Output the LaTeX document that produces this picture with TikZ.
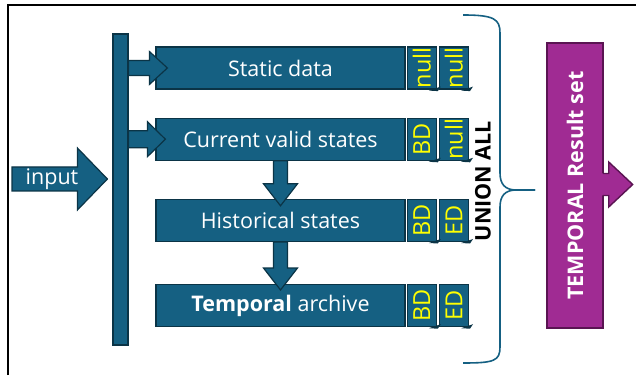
\documentclass[tikz,border=0pt]{standalone}
\usepackage{fontspec}
\setmainfont{Open Sans}
\usetikzlibrary{calc,positioning}
\definecolor{acc}{HTML}{156082}
\definecolor{accdk}{HTML}{0B3446}
\definecolor{purp}{HTML}{A02B93}
\definecolor{purpdk}{HTML}{5A1452}
\definecolor{tagtxt}{HTML}{FFFF00}
\newcommand{\bigtxt}{\fontsize{21.5}{24}\selectfont}
\newcommand{\tagtxt}{\fontsize{23.5}{26}\selectfont}
% block arrows: tail point, tip point, body half, head half, head length
\newcommand{\rarr}[5]{\draw[barr] let \p1=#1, \p2=#2 in (\x1,\y2+#3pt) -- (\x2-#5pt,\y2+#3pt) -- (\x2-#5pt,\y2+#4pt) -- (\x2,\y2) -- (\x2-#5pt,\y2-#4pt) -- (\x2-#5pt,\y2-#3pt) -- (\x1,\y2-#3pt) -- cycle;}
\newcommand{\darr}[5]{\draw[barr] let \p1=#1, \p2=#2 in (\x2-#3pt,\y1) -- (\x2-#3pt,\y2+#5pt) -- (\x2-#4pt,\y2+#5pt) -- (\x2,\y2) -- (\x2+#4pt,\y2+#5pt) -- (\x2+#3pt,\y2+#5pt) -- (\x2+#3pt,\y1) -- cycle;}
\tikzset{
  box/.style={draw=accdk,fill=acc,line width=1.2pt,minimum width=249pt,minimum height=42pt,inner sep=0pt,text=white,font=\bigtxt},
  tag/.style={box,minimum width=29pt,text=tagtxt,font=\tagtxt},
  barr/.style={draw=accdk,fill=acc,line width=1.2pt,line join=miter},
  brace/.style={draw=acc,line width=1.6pt},
}
\begin{document}
\begin{tikzpicture}[x=1pt,y=1pt,node distance=2pt]
\useasboundingbox (0,0) rectangle (636,375);
\draw[line width=2pt] (8,0) -- (8,370) -- (636,370);
\node[box,minimum width=15pt,minimum height=311pt] (bar) at (120.5,185.5) {};
\node[box] (static) at (280.5,307) {Static data};
\node[box,below=28pt of static] (current) {Current valid states};
\node[box,below=38pt of current] (historical) {Historical states};
\node[box,below=42pt of historical] (temporal) {\textbf{Temporal} archive};
\node[tag,right=1pt of static] (sd1) {\rotatebox{90}{null}};
\node[tag,right=2pt of sd1] (sd2) {\rotatebox{90}{null}};
\node[tag,right=1pt of current] (cv1) {\rotatebox{90}{BD}};
\node[tag,right=2pt of cv1] (cv2) {\rotatebox{90}{null}};
\node[tag,right=1pt of historical] (hs1) {\rotatebox{90}{BD}};
\node[tag,right=2pt of hs1] (hs2) {\rotatebox{90}{ED}};
\node[tag,right=1pt of temporal] (ta1) {\rotatebox{90}{BD}};
\node[tag,right=2pt of ta1] (ta2) {\rotatebox{90}{ED}};
\foreach \t in {sd1,sd2,cv1,cv2,hs1,hs2,ta1,ta2}
  \fill[accdk] ($(\t.south east)+(-8,-1)$) -- ($(\t.south east)+(4,3)$) -- ($(\t.south east)+(1,-1.5)$) -- cycle;
\coordinate (inp) at (12,196);
\rarr{(inp)}{($(bar.west|-inp)+(-5,0)$)}{12}{31}{30}
\node[text=white,font=\bigtxt] (inlab) at (52,196) {input};
\rarr{(bar.east)}{($(static.west)+(12,0)$)}{7.5}{16.5}{18}
\rarr{(bar.east)}{($(current.west)+(10,0)$)}{8.5}{17.5}{18}
\darr{(current.south)}{($(historical.north)+(0,-7)$)}{7}{17}{22}
\darr{(historical.south)}{($(temporal.north)+(0,-6)$)}{7}{17}{22}
\draw[brace] (463,360) .. controls (494,360) and (500,356) .. (500,342) -- (500,202)
  .. controls (500,191) and (505,185) .. (516,185) -- (535,185);
\draw[brace] (535,185) -- (516,185) .. controls (505,185) and (500,179) .. (500,168)
  -- (500,28) .. controls (500,14) and (494,12) .. (463,12);
\node[rotate=90,font=\bfseries\bigtxt] (union) at (483,194) {UNION ALL};
\node[draw=purpdk,fill=purp,line width=1.4pt,minimum width=56pt,minimum height=285pt,inner sep=0pt,text=white,font=\bfseries\bigtxt] (res) at (575,189.5) {\rotatebox{90}{TEMPORAL Result set}};
\fill[purp] let \p1=($(res.east)+(0,1)$) in (\x1-2pt,\y1+11pt) -- (\x1+5pt,\y1+11pt) -- (\x1+5pt,\y1+22.5pt) -- (\x1+29pt,\y1) -- (\x1+5pt,\y1-22.5pt) -- (\x1+5pt,\y1-11pt) -- (\x1-2pt,\y1-11pt) -- cycle;
\draw[purpdk,line width=1.4pt,line join=miter] let \p1=($(res.east)+(0,1)$) in (\x1-0.7pt,\y1+11pt) -- (\x1+5pt,\y1+11pt) -- (\x1+5pt,\y1+22.5pt) -- (\x1+29pt,\y1) -- (\x1+5pt,\y1-22.5pt) -- (\x1+5pt,\y1-11pt) -- (\x1-0.7pt,\y1-11pt);
\end{tikzpicture}
\end{document}
